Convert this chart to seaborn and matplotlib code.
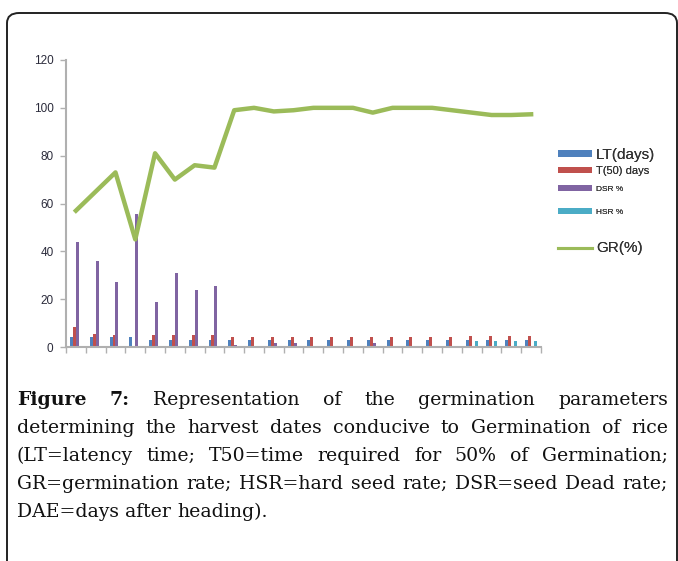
import numpy as np
import pandas as pd
import matplotlib
matplotlib.use("Agg")
import matplotlib.pyplot as plt
import seaborn as sns
from matplotlib.patches import FancyBboxPatch, Patch
from matplotlib.lines import Line2D

# ---------------- data ----------------
categories = [str(i) for i in range(1, 25)]
lt_days = [4, 4, 4, 4, 3, 3, 3, 3, 3, 3, 3, 3, 3, 3, 3, 3, 3, 3, 3, 3, 3, 3, 3, 3]
t50_days = [8.5, 5.5, 5, 0, 5, 5, 5, 5, 4, 4, 4, 4, 4, 4, 4, 4, 4, 4, 4, 4, 4.7, 4.7, 4.7, 4.7]
dsr_pct = [44, 36, 27, 55.5, 19, 31, 24, 25.5, 1, 0, 1.5, 1.5, 0, 0, 0, 1.5, 0, 0, 0, 0.5, 0, 0, 0, 0]
hsr_pct = [0] * 20 + [2.5, 2.5, 2.5, 2.5]
gr_pct = [57, 65, 73, 45, 81, 70, 76, 75, 99, 100, 98.5, 99, 100, 100, 100, 98,
          100, 100, 100, 99, 98, 97, 97, 97.3]
series_names = ["LT(days)", "T(50) days", "DSR %", "HSR %"]
line_name = "GR(%)"
y_ticks = [0, 20, 40, 60, 80, 100, 120]

colors = {"LT(days)": "#4f81bd", "T(50) days": "#c0504d",
          "DSR %": "#8064a2", "HSR %": "#4bacc6"}
green = "#9bbb59"

df = pd.DataFrame({
    "cat": categories * 4,
    "series": sum([[n] * len(categories) for n in series_names], []),
    "value": lt_days + t50_days + dsr_pct + hsr_pct,
})

# ---------------- figure ----------------
W, H = 678, 561
fig = plt.figure(figsize=(W / 100, H / 100), dpi=100)
fig.patch.set_facecolor("white")

def fx(px):
    return px / W

def fy(py):
    return 1 - py / H

ax = fig.add_axes([fx(66), fy(347), fx(541) - fx(66), fy(60) - fy(347)])

sns.barplot(data=df, x="cat", y="value", hue="series", hue_order=series_names,
            palette=colors, width=0.6, saturation=1, linewidth=0, ax=ax,
            legend=False)
sns.lineplot(x=np.arange(len(categories)), y=gr_pct, color=green, lw=3.2,
             ax=ax, legend=False)

ax.set_xlim(-0.5, len(categories) - 0.5)
ax.set_ylim(0, 120)
ax.set_yticks(y_ticks)
ax.set_yticklabels([str(v) for v in y_ticks], fontsize=8.5, color="#2b2b3b",
                   family="Liberation Sans")
ax.set_xticks(np.arange(len(categories) + 1) - 0.5)
ax.set_xticklabels([])
ax.set_xlabel("")
ax.set_ylabel("")
for s in ["top", "right"]:
    ax.spines[s].set_visible(False)
for s in ["left", "bottom"]:
    ax.spines[s].set_color("#b0b0b0")
    ax.spines[s].set_linewidth(1.5)
ax.tick_params(axis="y", length=4, width=1, color="#b0b0b0", pad=5)
ax.tick_params(axis="x", length=4, width=1, color="#b0b0b0")
ax.set_facecolor("white")
ax.grid(False)

# ---------------- legend (one entry per row, uneven spacing) ----------------
entries = [
    ("LT(days)", Patch(facecolor=colors["LT(days)"]), 11, 155),
    ("T(50) days", Patch(facecolor=colors["T(50) days"]), 8, 171),
    ("DSR %", Patch(facecolor=colors["DSR %"]), 6, 189),
    ("HSR %", Patch(facecolor=colors["HSR %"]), 6, 212),
    (line_name, Line2D([], [], color=green, lw=2.2), 11, 248),
]
for label, handle, fs, ypx in entries:
    fs_px = fs * 100 / 72
    leg = fig.legend([handle], [label], loc="center left",
                     bbox_to_anchor=(fx(558), fy(ypx)),
                     frameon=False, borderpad=0, borderaxespad=0,
                     handlelength=34 / fs_px, handleheight=5 / fs_px,
                     handletextpad=4 / fs_px,
                     prop={"size": fs, "family": "Liberation Sans"},
                     labelcolor="#333333")
    fig.add_artist(leg)

# ---------------- border ----------------
box = FancyBboxPatch((fx(7), -0.1), fx(677) - fx(7), fy(13) + 0.1,
                     boxstyle="round,pad=0,rounding_size=0.018",
                     transform=fig.transFigure, fill=False,
                     edgecolor="#222222", lw=1.4, clip_on=False)
fig.patches.append(box)

# ---------------- caption (justified) ----------------
caption_lines = [
    ([("Figure", "bold"), ("7:", "bold"), ("Representation", "normal"), ("of", "normal"),
      ("the", "normal"), ("germination", "normal"), ("parameters", "normal")], True),
    ([(w, "normal") for w in "determining the harvest dates conducive to Germination of rice".split()], True),
    ([(w, "normal") for w in "(LT=latency time; T50=time required for 50% of Germination;".split()], True),
    ([(w, "normal") for w in "GR=germination rate; HSR=hard seed rate; DSR=seed Dead rate;".split()], True),
    ([(w, "normal") for w in "DAE=days after heading).".split()], False),
]
baselines = [405, 433, 461, 489, 517]
x_left, x_right = 17, 668
cap_fs = 13.6
cap_family = "DejaVu Serif"

fig.canvas.draw()
renderer = fig.canvas.get_renderer()
space = fig.text(0, 0, "a a", fontsize=cap_fs, family=cap_family)
space2 = fig.text(0, 0, "aa", fontsize=cap_fs, family=cap_family)
sw = space.get_window_extent(renderer).width - space2.get_window_extent(renderer).width
space.remove()
space2.remove()
for (words, just), yb in zip(caption_lines, baselines):
    objs = []
    for w, wt in words:
        t = fig.text(0, fy(yb), w, fontsize=cap_fs, family=cap_family,
                     weight=wt, va="baseline", ha="left", color="#111111")
        objs.append(t)
    widths = [t.get_window_extent(renderer).width for t in objs]
    if just and len(objs) > 1:
        gap = (x_right - x_left - sum(widths)) / (len(objs) - 1)
    else:
        gap = sw
    x = x_left
    for t, w in zip(objs, widths):
        t.set_x(fx(x))
        x += w + gap

fig.savefig("out.png", dpi=100, facecolor="white")
